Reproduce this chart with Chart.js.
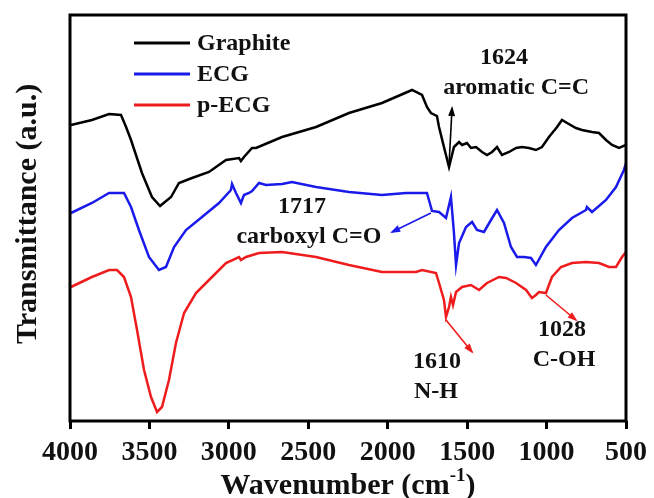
<!DOCTYPE html>
<html>
<head>
<meta charset="utf-8">
<script src="https://cdn.jsdelivr.net/npm/chart.js@4/dist/chart.umd.min.js"></script>
<style>
html,body{margin:0;padding:0;background:#fff;}
#wrap{width:654px;height:498px;position:relative;}
</style>
</head>
<body>
<div id="wrap"><canvas id="c" width="654" height="498"></canvas></div>
<script>
// ---- data (wavenumber in cm^-1, transmittance in arbitrary units) ----
const seriesNames = ['Graphite', 'ECG', 'p-ECG'];

const graphiteWn = [3994,3862,3754,3679,3647,3616,3547,3484,3433,3364,3314,3232,3125,3018,2936,2924,2905,2854,2829,2665,2451,2244,2036,1847,1784,1753,1728,1690,1677,1646,1614,1583,1551,1532,1501,1476,1444,1406,1375,1343,1312,1281,1236,1192,1155,1111,1067,1029,985,934,903,871,815,777,714,670,626,588,544,500];
const graphiteT  = [296,301,307,306,294,281,248,224,215,224,238,243,249,261,263,260,264,273,273,284,294,308,318,331,326,314,308,305,294,274,254,274,279,276,278,273,274,269,266,269,274,266,269,273,274,273,271,274,284,294,301,298,293,291,289,288,281,276,273,276];

const ecgWn = [3994,3862,3754,3660,3616,3566,3503,3440,3396,3345,3270,3169,3062,2987,2980,2955,2924,2905,2873,2854,2810,2766,2665,2603,2451,2244,2036,1885,1753,1721,1677,1633,1602,1583,1570,1551,1507,1469,1438,1394,1350,1312,1268,1224,1186,1142,1098,1067,1004,922,840,752,746,714,626,563,513,500];
const ecgT  = [208,218,228,228,214,191,164,151,154,174,191,204,218,231,237,228,218,226,228,230,238,236,237,239,234,229,226,228,228,210,209,203,224,188,156,178,194,199,191,189,201,211,198,174,164,164,163,156,174,191,203,211,214,209,221,234,251,258];

const pecgWn = [3994,3862,3754,3704,3660,3616,3578,3534,3490,3452,3421,3377,3333,3282,3207,3125,3018,2936,2924,2892,2810,2665,2451,2244,2036,1822,1784,1696,1677,1646,1633,1614,1602,1589,1570,1532,1476,1425,1375,1299,1255,1192,1129,1092,1067,1048,1004,966,909,840,752,670,607,563,525,500];
const pecgT  = [134,144,151,151,144,124,91,51,24,9,14,41,78,108,128,141,158,164,161,164,168,169,164,156,149,149,151,148,138,121,104,114,124,116,129,134,136,131,138,144,143,138,131,123,126,129,128,144,154,158,159,158,154,154,164,169];

const xTicks = [4000,3500,3000,2500,2000,1500,1000,500];

// peak annotations: [text, wavenumber, T]; arrows [wn1, T1, wn2, T2, colour]
const noteTexts = [
  ['1624', 1268, 363], ['aromatic C=C', 1192, 333],
  ['1717', 2540, 214], ['carboxyl C=O', 2496, 184],
  ['1610', 1690, 59],  ['N-H', 1696, 29],
  ['1028', 903, 91],   ['C-OH', 890, 61]
];
const noteArrows = [
  [1614, 256, 1595, 313, '#000000'],
  [1728, 208, 1973, 189, '#1a1aeb'],
  [1633, 101, 1469, 69, '#ee1c1c'],
  [1004, 126, 815, 101, '#ee1c1c']
];

const colors = ['#000000', '#1a1aeb', '#ee1c1c'];
function pts(wn, t){ return wn.map((w,i)=>({x:w, y:t[i]})); }

const FONT = '"Liberation Serif", "Times New Roman", serif';

const overlay = {
  id: 'overlay',
  afterDatasetsDraw(chart){
    const ctx = chart.ctx, a = chart.chartArea;
    const xs = chart.scales.x, ys = chart.scales.y;
    ctx.save();
    // frame
    ctx.strokeStyle = '#000'; ctx.lineWidth = 3;
    ctx.strokeRect(a.left, a.top, a.right - a.left, a.bottom - a.top);
    // arrows
    noteArrows.forEach(([w1,t1,w2,t2,c])=>{
      const x1 = xs.getPixelForValue(w1), y1 = ys.getPixelForValue(t1);
      const x2 = xs.getPixelForValue(w2), y2 = ys.getPixelForValue(t2);
      ctx.strokeStyle = c; ctx.fillStyle = c; ctx.lineWidth = 1.6;
      ctx.beginPath(); ctx.moveTo(x1,y1); ctx.lineTo(x2,y2); ctx.stroke();
      const ang = Math.atan2(y2-y1, x2-x1), L = 8, W = 3.5;
      ctx.beginPath();
      ctx.moveTo(x2 + Math.cos(ang)*2, y2 + Math.sin(ang)*2);
      ctx.lineTo(x2 - Math.cos(ang)*L - Math.sin(ang)*W, y2 - Math.sin(ang)*L + Math.cos(ang)*W);
      ctx.lineTo(x2 - Math.cos(ang)*L + Math.sin(ang)*W, y2 - Math.sin(ang)*L - Math.cos(ang)*W);
      ctx.closePath(); ctx.fill();
    });
    // annotation text
    ctx.fillStyle = '#111'; ctx.font = 'bold 24px ' + FONT;
    ctx.textAlign = 'center'; ctx.textBaseline = 'middle';
    noteTexts.forEach(([s,w,t])=>{
      ctx.fillText(s, xs.getPixelForValue(w), ys.getPixelForValue(t));
    });
    // legend
    ctx.textAlign = 'left';
    chart.data.datasets.forEach((ds,i)=>{
      const y = 43 + i*31;
      ctx.strokeStyle = ds.borderColor; ctx.lineWidth = 3;
      ctx.beginPath(); ctx.moveTo(134, y); ctx.lineTo(190, y); ctx.stroke();
      ctx.fillStyle = '#111'; ctx.font = 'bold 24px ' + FONT;
      ctx.fillText(ds.label, 197, y + 1);
    });
    // axis titles
    ctx.fillStyle = '#111';
    ctx.font = 'bold 30px ' + FONT;
    const main = 'Wavenumber (cm', sup = '-1', close = ')';
    const wm = ctx.measureText(main).width, wc = ctx.measureText(close).width;
    ctx.font = 'bold 19px ' + FONT;
    const ws = ctx.measureText(sup).width;
    const total = wm + ws + wc;
    let x0 = (a.left + a.right)/2 - total/2;
    const by = 494;
    ctx.textBaseline = 'alphabetic';
    ctx.font = 'bold 30px ' + FONT; ctx.fillText(main, x0, by);
    ctx.font = 'bold 19px ' + FONT; ctx.fillText(sup, x0 + wm, by - 13);
    ctx.font = 'bold 30px ' + FONT; ctx.fillText(close, x0 + wm + ws, by);
    ctx.save();
    ctx.translate(28, (a.top + a.bottom)/2 - 4);
    ctx.rotate(-Math.PI/2);
    ctx.textAlign = 'center'; ctx.textBaseline = 'middle';
    ctx.fillText('Transmittance (a.u.)', 0, 0);
    ctx.restore();
    ctx.restore();
  }
};

new Chart(document.getElementById('c'), {
  type: 'line',
  data: {
    datasets: [
      {label: seriesNames[0], data: pts(graphiteWn, graphiteT), borderColor: colors[0]},
      {label: seriesNames[1], data: pts(ecgWn, ecgT), borderColor: colors[1]},
      {label: seriesNames[2], data: pts(pecgWn, pecgT), borderColor: colors[2]}
    ].map(d => Object.assign(d, {borderWidth: 2.5, pointRadius: 0, tension: 0, fill: false}))
  },
  options: {
    responsive: false,
    animation: false,
    events: [],
    layout: {padding: {left: 70, top: 15, right: 27, bottom: 0}},
    plugins: {legend: {display: false}, tooltip: {enabled: false}},
    scales: {
      x: {
        type: 'linear', reverse: true, min: 500, max: 4000,
        afterBuildTicks: s => { s.ticks = xTicks.map(v => ({value: v})); },
        afterFit: s => { s.height = 77; },
        border: {display: false},
        grid: {display: true, drawOnChartArea: false, drawTicks: true, tickLength: 8, lineWidth: 3, color: '#000'},
        ticks: {color: '#111', padding: 7, maxRotation: 0, autoSkip: false,
          font: {family: FONT, size: 28, weight: 'bold'}, callback: v => String(v)}
      },
      y: {display: false, min: 0, max: 406}
    }
  },
  plugins: [overlay]
});
</script>
</body>
</html>
